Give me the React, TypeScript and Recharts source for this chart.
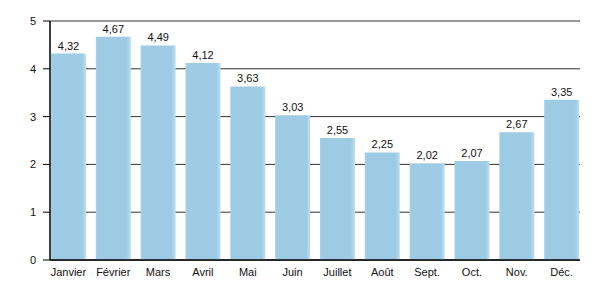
import React from "react";
import { BarChart, Bar, XAxis, YAxis, CartesianGrid, LabelList } from "recharts";

const months = ["Janvier", "Février", "Mars", "Avril", "Mai", "Juin", "Juillet", "Août", "Sept.", "Oct.", "Nov.", "Déc."];
const values = [4.32, 4.67, 4.49, 4.12, 3.63, 3.03, 2.55, 2.25, 2.02, 2.07, 2.67, 3.35];
const yTicks = [0, 1, 2, 3, 4, 5];

const data = months.map((m, i) => ({ month: m, value: values[i] }));

const font = "'Liberation Sans', Arial, sans-serif";

export default function App() {
  return (
    <div style={{ position: "absolute", left: 0, top: 0, width: 600, height: 300, background: "#fff" }}>
      <BarChart
        width={600}
        height={300}
        data={data}
        margin={{ top: 21, right: 20, bottom: 20, left: 0 }}
        barSize={35}
      >
        <defs>
          <linearGradient id="barGrad" x1="0" y1="0" x2="1" y2="0">
            <stop offset="0" stopColor="#a6d0e6" />
            <stop offset="0.06" stopColor="#9dcbe3" />
            <stop offset="0.88" stopColor="#9dcbe3" />
            <stop offset="1" stopColor="#bfdeee" />
          </linearGradient>
        </defs>
        <CartesianGrid vertical={false} stroke="#333" strokeWidth={1} />
        <XAxis
          dataKey="month"
          tickLine={false}
          axisLine={{ stroke: "#000", strokeWidth: 1.5 }}
          tick={{ fill: "#111", fontSize: 11, fontFamily: font }}
          height={20}
          interval={0}
          tickMargin={2}
          padding={{ left: -4, right: -4 }}
        />
        <YAxis
          width={50}
          domain={[0, 5]}
          ticks={yTicks}
          axisLine={{ stroke: "#000", strokeWidth: 1.5 }}
          tickLine={{ stroke: "#000" }}
          tickSize={7}
          tickMargin={7}
          tick={{ fill: "#111", fontSize: 11, fontFamily: font }}
        />
        <Bar dataKey="value" fill="url(#barGrad)" isAnimationActive={false}>
          <LabelList
            dataKey="value"
            position="top"
            offset={4}
            formatter={(v: number) => v.toFixed(2).replace(".", ",")}
            style={{ fill: "#111", fontSize: 11, fontFamily: font }}
          />
        </Bar>
      </BarChart>
    </div>
  );
}
